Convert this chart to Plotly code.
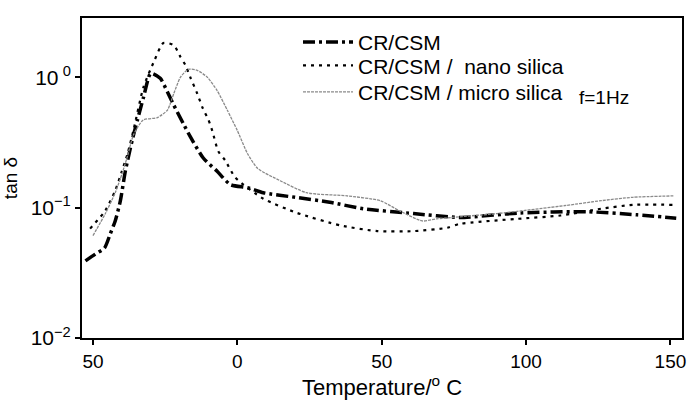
import plotly.graph_objects as go

# Data
cr_x = [-52.6, -49.2, -46, -44, -42.3, -40.5, -38.8, -36.4, -34.6, -32.5, -30, -26.7, -24.2, -22, -18.7, -16.3, -11.8, -7, -2.4, 3.5, 9, 20, 32, 43.6, 61, 77, 98, 121, 138.5, 152]
cr_y = [0.039, 0.044, 0.049, 0.063, 0.079, 0.113, 0.19, 0.33, 0.47, 0.70, 1.07, 0.98, 0.77, 0.61, 0.44, 0.35, 0.24, 0.19, 0.15, 0.142, 0.13, 0.12, 0.11, 0.098, 0.09, 0.084, 0.091, 0.093, 0.088, 0.083]

nano_x = [-51, -45.7, -42.3, -40, -38, -36, -32.5, -29, -25.6, -22, -19.7, -18, -16.3, -13.9, -12, -10, -8.7, -6.6, -4.2, -0.7, 9, 20.7, 35.7, 48.5, 61, 72.7, 77, 97, 112, 126, 137, 151]
nano_y = [0.069, 0.095, 0.135, 0.19, 0.26, 0.39, 0.84, 1.3, 1.83, 1.76, 1.43, 1.24, 1.0, 0.75, 0.58, 0.47, 0.39, 0.27, 0.23, 0.17, 0.117, 0.091, 0.073, 0.066, 0.066, 0.07, 0.075, 0.082, 0.087, 0.098, 0.105, 0.105]

micro_x = [-50, -45.7, -42.3, -40, -38, -36, -32.6, -27.7, -24.2, -22, -19.7, -17, -13.9, -10.4, -7, -3.5, 0, 3.5, 7, 15, 24, 38, 49.5, 56, 64, 69, 90, 114, 126, 137, 151]
micro_y = [0.061, 0.09, 0.13, 0.18, 0.25, 0.36, 0.47, 0.49, 0.56, 0.75, 1.0, 1.15, 1.13, 1.0, 0.79, 0.56, 0.39, 0.26, 0.2, 0.16, 0.13, 0.123, 0.113, 0.095, 0.079, 0.082, 0.09, 0.104, 0.113, 0.12, 0.123]

names = ["CR/CSM", "CR/CSM /  nano silica", "CR/CSM / micro silica"]

x_tickvals = [-50, 0, 50, 100, 150]
x_ticktext = ["50", "0", "50", "100", "150"]
y_tickvals = [0.01, 0.1, 1]
y_ticktext = ["10<sup>−2</sup>", "10<sup>−1</sup>", "10<sup> 0</sup>"]

FONT = "Liberation Sans, Arial, sans-serif"

fig = go.Figure()
fig.add_trace(go.Scatter(x=cr_x, y=cr_y, mode="lines", name=names[0], legend="legend",
                         line=dict(color="black", width=3.5, dash="12px,4px,3px,4px", shape="spline", smoothing=0.6)))
fig.add_trace(go.Scatter(x=nano_x, y=nano_y, mode="lines", name=names[1], legend="legend2",
                         line=dict(color="black", width=2.2, dash="3px,5px", shape="spline", smoothing=0.6)))
fig.add_trace(go.Scatter(x=micro_x, y=micro_y, mode="lines", name=names[2], legend="legend3",
                         line=dict(color="#8a8a8a", width=1.3, dash="3px,1px", shape="spline", smoothing=0.6)))

leg_common = dict(x=0.36, xanchor="left", yanchor="middle", bgcolor="rgba(0,0,0,0)",
                  font=dict(size=21, family=FONT), itemwidth=50)

fig.update_layout(
    width=689, height=407,
    margin=dict(l=82, r=7, t=18, b=69, autoexpand=False),
    paper_bgcolor="white", plot_bgcolor="white",
    font=dict(family=FONT, size=18, color="black"),
    showlegend=True,
    legend=dict(y=0.924, **leg_common),
    legend2=dict(y=0.851, **leg_common),
    legend3=dict(y=0.768, **leg_common),
    annotations=[dict(text="f=1Hz", x=0.87, y=0.753, xref="paper", yref="paper",
                      xanchor="center", yanchor="middle",
                      showarrow=False, font=dict(size=19, family=FONT))],
)
fig.update_xaxes(range=[-53.8, 154], tickvals=x_tickvals, ticktext=x_ticktext,
                 ticks="outside", ticklen=5, tickwidth=1.5, tickcolor="black",
                 showline=True, linecolor="black", linewidth=2, mirror=True,
                 showgrid=False, zeroline=False, automargin=False,
                 tickfont=dict(size=19),
                 title=dict(text="Temperature/<sup>o</sup> C", font=dict(size=22), standoff=4))
fig.update_yaxes(type="log", range=[-2, 0.454], tickvals=y_tickvals, ticktext=y_ticktext,
                 ticks="outside", ticklen=5, tickwidth=1.5, tickcolor="black",
                 showline=True, linecolor="black", linewidth=2, mirror=True,
                 showgrid=False, zeroline=False, automargin=False,
                 tickfont=dict(size=21),
                 title=dict(text="tan δ", font=dict(size=19), standoff=8))

fig.write_html("out.html", config={"displayModeBar": False},
               post_script="document.body.style.margin='0';document.body.style.padding='0';")
